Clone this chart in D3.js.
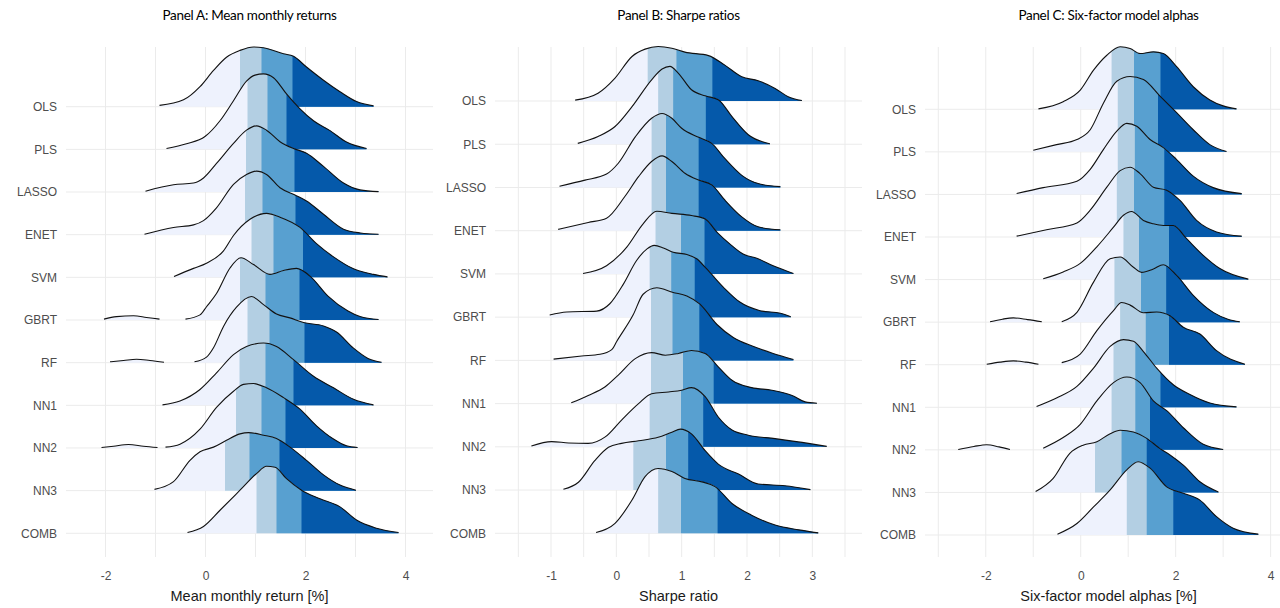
<!DOCTYPE html>
<html>
<head>
<meta charset="utf-8">
<script src="https://cdn.jsdelivr.net/npm/d3@7"></script>
<style>
  body { margin: 0; background: #fff; }
  svg { display: block; }
</style>
</head>
<body>
<svg id="chart" width="1280" height="608"></svg>
<script>
// Categories (top to bottom)
const models = ["OLS", "PLS", "LASSO", "ENET", "SVM", "GBRT", "RF", "NN1", "NN2", "NN3", "COMB"];

const titles = ["Panel A: Mean monthly returns", "Panel B: Sharpe ratios", "Panel C: Six-factor model alphas"];
const axisTitles = ["Mean monthly return [%]", "Sharpe ratio", "Six-factor model alphas [%]"];

const ticksA = [-2, 0, 2, 4];
const ticksB = [-1, 0, 1, 2, 3];
const ticksC = [-2, 0, 2, 4];

// Quartile cut points per model: [q1, median, q3]
const quartA = [
  [0.69, 1.12, 1.74], [0.84, 1.24, 1.62], [0.81, 1.12, 1.78], [0.79, 1.14, 1.80],
  [0.92, 1.36, 1.95], [0.69, 1.20, 1.88], [0.84, 1.28, 1.98], [0.68, 1.20, 1.76],
  [0.61, 1.12, 1.60], [0.39, 0.88, 1.48], [1.02, 1.42, 1.92]
];
const quartB = [
  [0.48, 0.92, 1.47], [0.64, 0.87, 1.37], [0.54, 0.76, 1.26], [0.54, 0.76, 1.26],
  [0.60, 0.99, 1.35], [0.51, 0.84, 1.20], [0.53, 0.86, 1.27], [0.53, 1.02, 1.49],
  [0.51, 0.99, 1.33], [0.26, 0.76, 1.10], [0.64, 0.99, 1.55]
];
const quartC = [
  [0.65, 1.12, 1.68], [0.78, 1.12, 1.63], [0.78, 1.14, 1.76], [0.76, 1.12, 1.76],
  [0.90, 1.23, 1.86], [0.71, 1.27, 1.80], [0.83, 1.37, 1.86], [0.69, 1.15, 1.68],
  [0.65, 1.15, 1.46], [0.30, 0.86, 1.39], [0.97, 1.39, 1.95]
];

// Density curves: [value, height in row units]; some ridges have a separate bump
const curvesA = [
  [[[-0.92,0.03],[-0.44,0.16],[-0.11,0.47],[0.16,0.85],[0.42,1.16],[0.69,1.32],[0.96,1.40],[1.16,1.38],[1.56,1.24],[1.76,1.18],[2.02,0.93],[2.36,0.62],[2.69,0.35],[3.02,0.12],[3.36,0.02]]],
  [[[-0.78,0.02],[-0.38,0.13],[-0.01,0.30],[0.29,0.67],[0.56,1.14],[0.82,1.60],[0.99,1.74],[1.16,1.77],[1.36,1.68],[1.62,1.30],[1.89,0.95],[2.16,0.67],[2.49,0.44],[2.82,0.17],[3.22,0.02]]],
  [[[-1.20,0.02],[-0.64,0.17],[-0.24,0.21],[-0.04,0.33],[0.22,0.67],[0.56,1.14],[0.82,1.45],[1.02,1.55],[1.22,1.45],[1.49,1.18],[1.76,1.02],[2.02,0.91],[2.36,0.60],[2.76,0.21],[3.09,0.05],[3.46,0.01]]],
  [[[-1.22,0.01],[-0.64,0.17],[-0.24,0.23],[-0.04,0.33],[0.22,0.63],[0.56,1.18],[0.82,1.41],[1.02,1.49],[1.22,1.41],[1.49,1.10],[1.79,0.93],[2.02,0.79],[2.36,0.48],[2.76,0.13],[3.10,0.04],[3.46,0.01]]],
  [[[-0.63,0.02],[-0.24,0.21],[0.02,0.33],[0.36,0.62],[0.56,0.98],[0.89,1.36],[1.22,1.50],[1.49,1.41],[1.89,1.17],[2.22,0.79],[2.56,0.48],[2.96,0.20],[3.36,0.07],[3.64,0.01]]],
  [[[-2.03,0.02],[-1.78,0.08],[-1.44,0.10],[-1.18,0.06],[-0.92,0.02]],
   [[-0.40,0.02],[-0.11,0.12],[0.02,0.31],[0.22,0.62],[0.49,1.22],[0.71,1.46],[0.96,1.30],[1.29,1.07],[1.56,1.16],[1.82,1.21],[2.09,1.03],[2.45,0.56],[2.85,0.21],[3.09,0.08],[3.46,0.01]]],
  [[[-1.91,0.02],[-1.64,0.05],[-1.38,0.08],[-1.11,0.05],[-0.83,0.01]],
   [[-0.22,0.02],[0.02,0.13],[0.16,0.35],[0.36,0.85],[0.62,1.30],[0.92,1.55],[1.16,1.36],[1.42,1.14],[1.69,1.05],[1.96,0.94],[2.36,0.86],[2.62,0.72],[2.96,0.34],[3.25,0.10],[3.52,0.01]]],
  [[[-0.86,0.01],[-0.51,0.10],[-0.11,0.37],[0.22,0.76],[0.56,1.19],[0.82,1.38],[1.16,1.46],[1.42,1.38],[1.76,1.07],[2.16,0.68],[2.56,0.41],[2.96,0.14],[3.36,0.01]]],
  [[[-2.08,0.01],[-1.84,0.04],[-1.54,0.08],[-1.24,0.04],[-0.96,0.01]],
   [[-0.80,0.02],[-0.51,0.09],[-0.11,0.44],[0.22,0.95],[0.56,1.33],[0.76,1.49],[0.96,1.51],[1.22,1.41],[1.56,1.18],[1.89,0.91],[2.22,0.52],[2.56,0.21],[2.82,0.05],[3.04,0.01]]],
  [[[-1.02,0.03],[-0.64,0.21],[-0.31,0.71],[-0.11,0.91],[0.16,1.02],[0.42,1.18],[0.69,1.33],[0.86,1.36],[1.16,1.30],[1.42,1.22],[1.69,1.02],[2.02,0.71],[2.36,0.37],[2.69,0.13],[3.01,0.01]]],
  [[[-0.36,0.02],[-0.04,0.16],[0.29,0.54],[0.69,1.01],[1.02,1.40],[1.22,1.57],[1.39,1.55],[1.62,1.28],[1.92,1.01],[2.29,0.81],[2.69,0.62],[3.02,0.31],[3.42,0.12],[3.86,0.02]]]
];

const curvesB = [
  [[[-0.63,0.02],[-0.28,0.18],[-0.02,0.53],[0.24,1.03],[0.44,1.20],[0.64,1.26],[0.85,1.22],[1.05,1.13],[1.41,1.05],[1.66,0.83],[1.92,0.56],[2.17,0.47],[2.43,0.29],[2.63,0.10],[2.84,0.01]]],
  [[[-0.59,0.02],[-0.28,0.18],[-0.02,0.41],[0.24,0.87],[0.54,1.49],[0.70,1.74],[0.82,1.80],[0.95,1.64],[1.15,1.26],[1.36,1.12],[1.56,1.03],[1.77,0.64],[2.02,0.22],[2.35,0.01]]],
  [[[-0.87,0.03],[-0.48,0.17],[-0.15,0.31],[0.03,0.56],[0.29,1.17],[0.54,1.60],[0.70,1.71],[0.85,1.60],[1.00,1.37],[1.26,1.16],[1.46,1.02],[1.66,0.67],[1.92,0.28],[2.17,0.09],[2.51,0.02]]],
  [[[-0.89,0.03],[-0.43,0.19],[-0.15,0.29],[0.13,0.79],[0.34,1.25],[0.54,1.60],[0.70,1.73],[0.85,1.60],[1.05,1.33],[1.26,1.17],[1.46,1.06],[1.66,0.71],[1.92,0.32],[2.17,0.09],[2.51,0.02]]],
  [[[-0.51,0.01],[-0.15,0.19],[0.16,0.62],[0.41,1.16],[0.62,1.45],[0.85,1.40],[1.15,1.35],[1.36,1.27],[1.55,0.95],[1.74,0.69],[1.94,0.46],[2.15,0.36],[2.40,0.19],[2.71,0.01]]],
  [[[-1.02,0.05],[-0.76,0.12],[-0.30,0.14],[-0.10,0.31],[0.11,0.77],[0.31,1.31],[0.47,1.58],[0.58,1.66],[0.72,1.60],[0.87,1.50],[1.08,1.45],[1.23,1.35],[1.38,1.12],[1.64,0.69],[1.89,0.35],[2.20,0.15],[2.51,0.09],[2.67,0.01]]],
  [[[-0.96,0.03],[-0.53,0.10],[-0.25,0.14],[-0.07,0.25],[0.01,0.45],[0.26,1.06],[0.41,1.53],[0.62,1.68],[0.87,1.57],[1.08,1.49],[1.28,1.30],[1.54,0.83],[1.79,0.53],[2.10,0.32],[2.40,0.16],[2.71,0.02]]],
  [[[-0.69,0.02],[-0.43,0.19],[-0.17,0.39],[0.03,0.66],[0.29,1.04],[0.54,1.18],[0.75,1.12],[0.95,1.16],[1.15,1.23],[1.36,1.16],[1.56,0.85],[1.77,0.54],[2.07,0.37],[2.38,0.31],[2.69,0.19],[2.89,0.04],[3.07,0.01]]],
  [[[-1.30,0.02],[-0.99,0.12],[-0.73,0.09],[-0.43,0.08],[-0.17,0.23],[0.08,0.62],[0.34,1.00],[0.54,1.23],[0.80,1.27],[1.00,1.31],[1.15,1.37],[1.36,1.16],[1.56,0.69],[1.77,0.39],[2.02,0.27],[2.43,0.19],[2.94,0.08],[3.22,0.01]]],
  [[[-0.81,0.02],[-0.58,0.18],[-0.33,0.68],[-0.12,0.99],[0.08,1.08],[0.34,1.14],[0.64,1.22],[0.85,1.34],[0.98,1.41],[1.15,1.30],[1.36,0.91],[1.56,0.60],[1.87,0.37],[2.17,0.14],[2.58,0.10],[2.97,0.01]]],
  [[[-0.31,0.02],[-0.02,0.23],[0.24,0.77],[0.44,1.31],[0.64,1.50],[0.85,1.43],[1.05,1.27],[1.31,1.19],[1.51,1.08],[1.77,0.69],[2.07,0.42],[2.43,0.19],[2.79,0.08],[3.09,0.01]]]
];

const curvesC = [
  [[[-0.89,0.01],[-0.37,0.18],[-0.01,0.45],[0.27,0.92],[0.55,1.27],[0.83,1.47],[1.04,1.43],[1.25,1.31],[1.53,1.35],[1.74,1.31],[2.02,1.00],[2.37,0.53],[2.72,0.22],[3.00,0.08],[3.28,0.01]]],
  [[[-1.00,0.04],[-0.51,0.17],[-0.08,0.29],[0.20,0.52],[0.48,1.15],[0.76,1.66],[1.04,1.77],[1.32,1.70],[1.67,1.31],[2.02,0.92],[2.37,0.52],[2.72,0.17],[3.07,0.01]]],
  [[[-1.35,0.02],[-0.79,0.16],[-0.08,0.31],[0.20,0.59],[0.48,1.06],[0.76,1.49],[0.97,1.67],[1.18,1.60],[1.46,1.29],[1.74,1.10],[2.02,0.82],[2.37,0.43],[2.79,0.16],[3.39,0.02]]],
  [[[-1.35,0.02],[-0.72,0.17],[-0.08,0.33],[0.20,0.63],[0.55,1.17],[0.83,1.56],[1.04,1.64],[1.25,1.49],[1.53,1.17],[1.81,1.10],[2.09,0.86],[2.44,0.39],[2.86,0.12],[3.39,0.02]]],
  [[[-0.79,0.02],[-0.37,0.18],[-0.01,0.38],[0.34,0.77],[0.69,1.23],[0.90,1.51],[1.07,1.60],[1.32,1.39],[1.53,1.31],[1.74,1.27],[1.95,1.27],[2.23,0.96],[2.58,0.57],[2.93,0.26],[3.53,0.01]]],
  [[[-1.91,0.01],[-1.65,0.07],[-1.42,0.10],[-1.12,0.06],[-0.82,0.01]],
   [[-0.40,0.01],[-0.08,0.23],[0.27,0.94],[0.62,1.49],[0.83,1.53],[1.11,1.29],[1.28,1.17],[1.53,1.25],[1.74,1.35],[2.02,1.10],[2.37,0.63],[2.79,0.23],[3.10,0.07],[3.35,0.01]]],
  [[[-1.98,0.01],[-1.70,0.06],[-1.42,0.09],[-1.15,0.06],[-0.89,0.01]],
   [[-0.40,0.05],[-0.01,0.25],[0.34,0.80],[0.69,1.27],[0.86,1.46],[1.04,1.40],[1.32,1.22],[1.60,1.24],[1.88,1.15],[2.16,0.88],[2.51,0.72],[2.86,0.33],[3.46,0.01]]],
  [[[-0.93,0.02],[-0.51,0.22],[-0.08,0.49],[0.27,0.92],[0.62,1.43],[0.90,1.59],[1.11,1.55],[1.32,1.31],[1.60,0.92],[1.95,0.53],[2.30,0.30],[2.72,0.10],[3.28,0.01]]],
  [[[-2.58,0.01],[-2.25,0.08],[-1.98,0.12],[-1.72,0.07],[-1.49,0.01]],
   [[-0.79,0.04],[-0.37,0.29],[-0.01,0.60],[0.34,1.15],[0.69,1.58],[0.97,1.71],[1.25,1.58],[1.53,1.15],[1.81,0.92],[2.16,0.52],[2.58,0.13],[3.00,0.01]]],
  [[[-0.95,0.02],[-0.58,0.33],[-0.23,0.92],[0.05,1.11],[0.34,1.19],[0.62,1.38],[0.83,1.46],[1.11,1.42],[1.39,1.27],[1.67,1.03],[1.88,0.88],[2.16,0.64],[2.51,0.25],[2.90,0.01]]],
  [[[-0.49,0.02],[-0.08,0.27],[0.27,0.66],[0.62,1.06],[0.97,1.53],[1.21,1.72],[1.46,1.57],[1.81,1.13],[2.16,0.98],[2.51,0.82],[2.86,0.43],[3.21,0.16],[3.74,0.02]]]
];

// Quartile fills, lightest to darkest
const fills = ["#eef2fd", "#b3cfe3", "#58a0d0", "#0559aa"];

// Layout
const panelTop = 47;
const panelBottom = 557;
const panels = [
  { title: titles[0], xlab: axisTitles[0], ticks: ticksA, q: quartA, curves: curvesA,
    left: 66, right: 433, domain: [-2.79, 4.55], yFirst: 106.7, yLast: 533.3 },
  { title: titles[1], xlab: axisTitles[1], ticks: ticksB, q: quartB, curves: curvesB,
    left: 495, right: 862, domain: [-1.857, 3.76], yFirst: 101, yLast: 533.3 },
  { title: titles[2], xlab: axisTitles[2], ticks: ticksC, q: quartC, curves: curvesC,
    left: 925, right: 1292, domain: [-3.28, 4.45], yFirst: 109.3, yLast: 535 }
];

const svg = d3.select("#chart");
const defs = svg.append("defs");

panels.forEach((p, pi) => {
  const g = svg.append("g");

  const x = d3.scaleLinear().domain(p.domain).range([p.left, p.right]);
  const y = d3.scalePoint().domain(models).range([p.yFirst, p.yLast]);
  const step = (p.yLast - p.yFirst) / (models.length - 1);

  // Grid: major ticks plus midpoints
  const half = (p.ticks[1] - p.ticks[0]) / 2;
  const minor = [p.ticks[0] - half, ...p.ticks.map(t => t + half)]
    .filter(v => v >= p.domain[0] && v <= p.domain[1]);

  g.append("g").selectAll("line")
    .data(minor.concat(p.ticks))
    .join("line")
    .attr("x1", d => x(d)).attr("x2", d => x(d))
    .attr("y1", panelTop).attr("y2", panelBottom)
    .attr("stroke", "#ebebeb")
    .attr("stroke-width", 1);

  g.append("g").selectAll("line")
    .data(models)
    .join("line")
    .attr("x1", p.left).attr("x2", p.right)
    .attr("y1", d => y(d)).attr("y2", d => y(d))
    .attr("stroke", "#ebebeb")
    .attr("stroke-width", 1);

  // Ridges, top row first so lower ridges overlap upper ones
  models.forEach((m, i) => {
    const base = y(m);
    const area = d3.area()
      .x(d => x(d[0]))
      .y0(base)
      .y1(d => base - d[1] * step)
      .curve(d3.curveMonotoneX);
    const line = d3.line()
      .x(d => x(d[0]))
      .y(d => base - d[1] * step)
      .curve(d3.curveMonotoneX);

    const cuts = [null, ...p.q[i]];
    const rg = g.append("g");

    cuts.forEach((c, k) => {
      let clipAttr = null;
      if (c !== null) {
        const id = `clip-${pi}-${i}-${k}`;
        defs.append("clipPath").attr("id", id)
          .append("rect")
          .attr("x", x(c)).attr("y", 0)
          .attr("width", p.right + 60 - x(c)).attr("height", 608);
        clipAttr = `url(#${id})`;
      }
      p.curves[i].forEach(seg => {
        rg.append("path")
          .attr("d", area(seg))
          .attr("fill", fills[k])
          .attr("clip-path", clipAttr);
      });
    });

    p.curves[i].forEach(seg => {
      rg.append("path")
        .attr("d", line(seg))
        .attr("fill", "none")
        .attr("stroke", "#111")
        .attr("stroke-width", 1.1);
    });
  });

  // Axes
  const xAxis = g.append("g")
    .attr("transform", `translate(0,565)`)
    .call(d3.axisBottom(x).tickValues(p.ticks).tickSize(0).tickPadding(6).tickFormat(d => String(d)));
  xAxis.select(".domain").remove();
  xAxis.selectAll("text")
    .attr("fill", "#4d4d4d")
    .style("font-family", "'Liberation Sans', Arial, sans-serif")
    .style("font-size", "12px");

  const yAxis = g.append("g")
    .attr("transform", `translate(${p.left},0)`)
    .call(d3.axisLeft(y).tickSize(0).tickPadding(9));
  yAxis.select(".domain").remove();
  yAxis.selectAll("text")
    .attr("fill", "#4d4d4d")
    .style("font-family", "'Liberation Sans', Arial, sans-serif")
    .style("font-size", "12px");

  // Titles
  g.append("text")
    .attr("x", (p.left + p.right) / 2)
    .attr("y", 20)
    .attr("text-anchor", "middle")
    .style("font-family", "Lato, 'Open Sans', sans-serif")
    .style("font-size", "13.5px")
    .style("letter-spacing", "-0.3px")
    .attr("fill", "#000")
    .text(p.title);

  g.append("text")
    .attr("x", (p.left + p.right) / 2)
    .attr("y", 601)
    .attr("text-anchor", "middle")
    .style("font-family", "'Liberation Sans', Arial, sans-serif")
    .style("font-size", "14.5px")
    .attr("fill", "#1a1a1a")
    .text(p.xlab);
});
</script>
</body>
</html>
